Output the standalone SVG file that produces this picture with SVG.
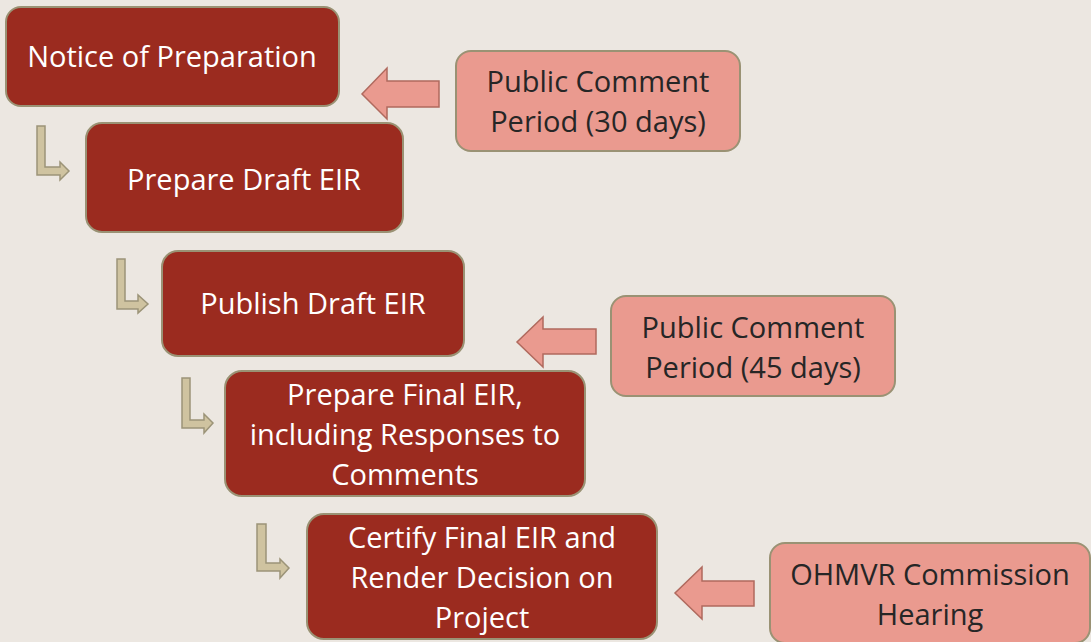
<svg xmlns="http://www.w3.org/2000/svg" width="1091" height="642" viewBox="0 0 1091 642">
<style>
.step{fill:#9B2B1F;stroke:#9A9274;stroke-width:2}
.pink{fill:#EA9A8F;stroke:#9A9274;stroke-width:2}
.parrow{fill:#EA9A8F;stroke:#B06A5E;stroke-width:1.5}
.bent{fill:#CFC3A0;stroke:#9C9478;stroke-width:1.5}
text{font-family:"Open Sans","Noto Sans",sans-serif;font-size:29px;text-anchor:middle}
.w{fill:#FFFFFF}
.d{fill:#262626}
</style>
<rect width="1091" height="642" fill="#ECE7E1"/>
<g id="connectors">
<path class="bent" d="M37,126 H45 V167 H60 V162 L69,171 L60,180 V175 H37 Z"/>
<path class="bent" d="M117,259 H125 V301 H138 V295 L148,304 L138,313 V309 H117 Z"/>
<path class="bent" d="M182,378 H190 V420 H204 V414 L213,423 L204,433 V428 H182 Z"/>
<path class="bent" d="M257,524 H266 V563 H280 V559 L289,568 L280,578 V571 H257 Z"/>
<path class="parrow" d="M439,81 V107 H387 V119 L362,94 L387,68 V81 Z"/>
<path class="parrow" d="M596,329 V354 H543 V367 L517,342 L543,317 V329 Z"/>
<path class="parrow" d="M754,581 V606 H702 V619 L675,593 L702,567 V581 Z"/>
</g>
<g id="n1"><rect class="step" x="6" y="7" width="333" height="99" rx="15"/><text class="w" x="172" y="67">Notice of Preparation</text></g>
<g id="n2"><rect class="step" x="86" y="123" width="317" height="109" rx="16"/><text class="w" x="244" y="190">Prepare Draft EIR</text></g>
<g id="n3"><rect class="step" x="162" y="251" width="302" height="105" rx="16"/><text class="w" x="313" y="314">Publish Draft EIR</text></g>
<g id="n4"><rect class="step" x="225" y="371" width="360" height="125" rx="17"/><text class="w" x="405" y="405">Prepare Final EIR,</text><text class="w" x="405" y="445">including Responses to</text><text class="w" x="405" y="485">Comments</text></g>
<g id="n5"><rect class="step" x="307" y="514" width="350" height="125" rx="17"/><text class="w" x="482" y="548">Certify Final EIR and</text><text class="w" x="482" y="588">Render Decision on</text><text class="w" x="482" y="628">Project</text></g>
<g id="p1"><rect class="pink" x="456" y="51" width="284" height="100" rx="15"/><text class="d" x="598" y="92">Public Comment</text><text class="d" x="598" y="132">Period (30 days)</text></g>
<g id="p2"><rect class="pink" x="611" y="296" width="284" height="100" rx="15"/><text class="d" x="753" y="338">Public Comment</text><text class="d" x="753" y="378">Period (45 days)</text></g>
<g id="p3"><rect class="pink" x="770" y="543" width="320" height="100" rx="15"/><text class="d" x="930" y="585">OHMVR Commission</text><text class="d" x="930" y="625">Hearing</text></g>
</svg>
